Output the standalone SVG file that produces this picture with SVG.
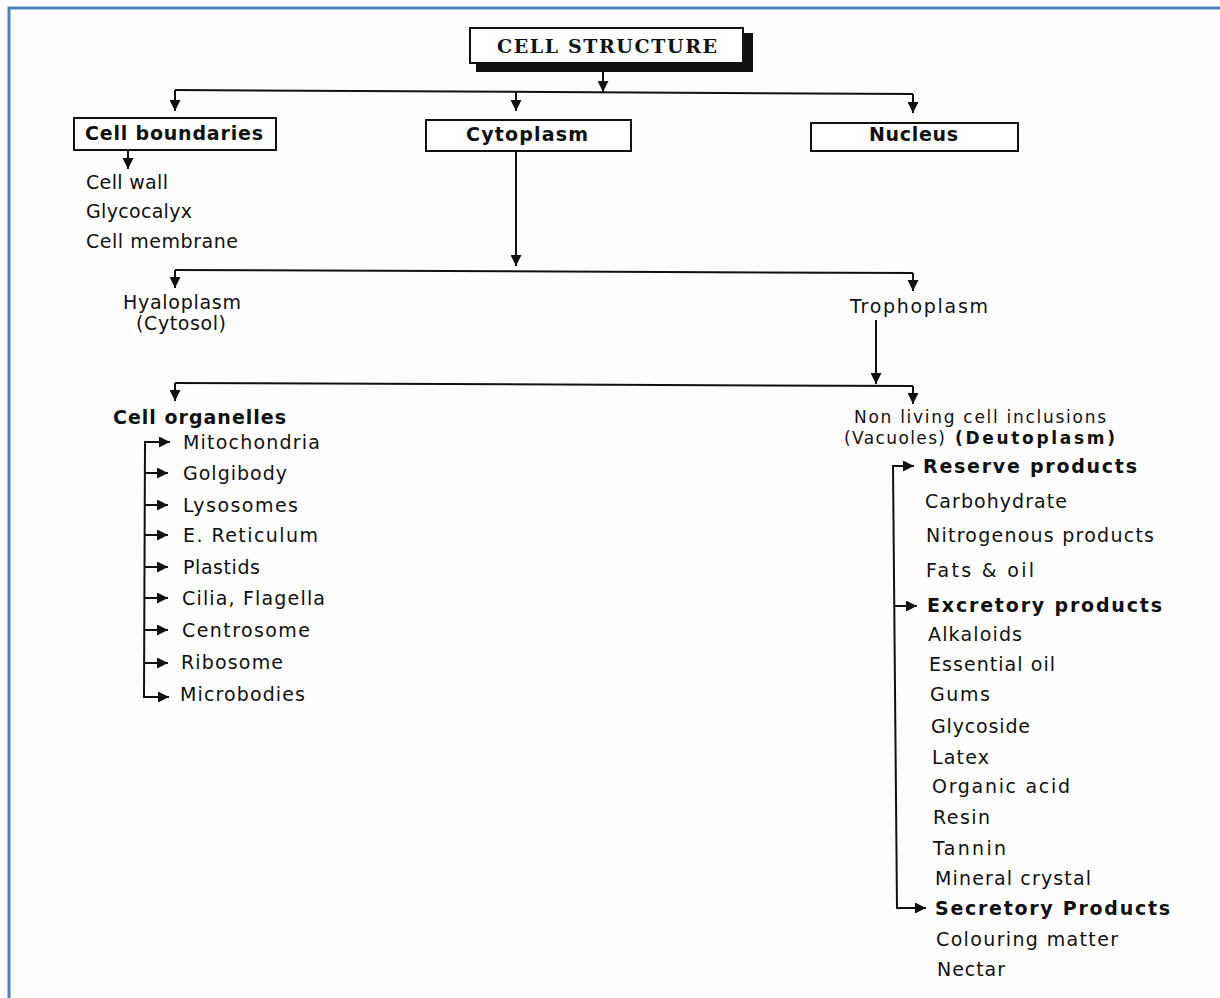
<svg xmlns="http://www.w3.org/2000/svg" width="1220" height="998" viewBox="0 0 1220 998">
<style>
.bg{fill:#fdfdfd}
.border{fill:none;stroke:#4f81bd;stroke-width:3}
.box{fill:#fff;stroke:#111;stroke-width:2}
.shadow{fill:#111}
.ln{fill:none;stroke:#111;stroke-width:2}
.ar{fill:none;stroke:#111;stroke-width:2;marker-end:url(#ah)}
text{font-family:"DejaVu Sans","Liberation Sans",sans-serif;font-size:19px;fill:#111}
.b{font-weight:bold}
.sm{font-size:17px}
.title{font-family:"DejaVu Serif","Liberation Serif",serif;font-weight:bold;font-size:19px}
</style>
<defs>
<marker id="ah" viewBox="0 0 10 10" markerWidth="11" markerHeight="11" markerUnits="userSpaceOnUse" refX="10" refY="5" orient="auto">
<path d="M0,0 L10,5 L0,10 z" fill="#111"/>
</marker>
</defs>
<rect class="bg" x="0" y="0" width="1220" height="998"/>
<path class="border" d="M9,998 L9,8 L1220,8"/>

<g id="connectors">
<path class="ar" d="M603,72 L603,92"/>
<path class="ln" d="M175,90 L913,94"/>
<path class="ar" d="M175,90 L175,111"/>
<path class="ar" d="M516,92 L516,111"/>
<path class="ar" d="M913,94 L913,113"/>
<path class="ar" d="M128,150 L128,169"/>
<path class="ar" d="M516,151 L516,266"/>
<path class="ln" d="M175,270 L913,273"/>
<path class="ar" d="M175,270 L175,288"/>
<path class="ar" d="M913,273 L913,291"/>
<path class="ar" d="M876,320 L876,384"/>
<path class="ln" d="M175,383 L913,386"/>
<path class="ar" d="M175,383 L175,401"/>
<path class="ar" d="M913,386 L913,404"/>
<path class="ln" d="M144,697 L145,442"/>
<path class="ar" d="M144,442 L170,442"/>
<path class="ar" d="M145,473 L168,473"/>
<path class="ar" d="M145,505 L168,505"/>
<path class="ar" d="M145,535 L168,535"/>
<path class="ar" d="M145,567 L168,567"/>
<path class="ar" d="M145,598 L168,598"/>
<path class="ar" d="M145,630 L168,630"/>
<path class="ar" d="M145,663 L168,663"/>
<path class="ar" d="M143,697 L169,697"/>
<path class="ln" d="M893,466 L897,909"/>
<path class="ar" d="M892,466 L914,466"/>
<path class="ar" d="M895,606 L917,606"/>
<path class="ar" d="M896,908 L926,908"/>
</g>

<g id="cell-structure">
<rect class="shadow" x="476" y="33" width="277" height="39"/>
<rect class="box" x="470" y="28" width="273" height="35"/>
<text class="title" x="497" y="53" textLength="220">CELL STRUCTURE</text>
</g>

<g id="cell-boundaries">
<rect class="box" x="74" y="118" width="202" height="32"/>
<text class="b" x="85" y="140" textLength="178">Cell boundaries</text>
</g>

<g id="cytoplasm">
<rect class="box" x="426" y="120" width="205" height="31"/>
<text class="b" x="466" y="141" textLength="122">Cytoplasm</text>
</g>

<g id="nucleus">
<rect class="box" x="811" y="123" width="207" height="28"/>
<text class="b" x="869" y="141" textLength="89">Nucleus</text>
</g>

<g id="boundary-items">
<text x="86" y="189" textLength="82">Cell wall</text>
<text x="86" y="218" textLength="106">Glycocalyx</text>
<text x="86" y="248" textLength="152">Cell membrane</text>
</g>

<g id="hyaloplasm">
<text x="123" y="309" textLength="118">Hyaloplasm</text>
<text x="136" y="330" textLength="90">(Cytosol)</text>
</g>

<g id="trophoplasm">
<text x="850" y="313" textLength="138">Trophoplasm</text>
</g>

<g id="cell-organelles">
<text class="b" x="113" y="424" textLength="173">Cell organelles</text>
<text x="183" y="449" textLength="137">Mitochondria</text>
<text x="183" y="480" textLength="104">Golgibody</text>
<text x="183" y="512" textLength="115">Lysosomes</text>
<text x="183" y="542" textLength="135">E. Reticulum</text>
<text x="183" y="574" textLength="77">Plastids</text>
<text x="182" y="605" textLength="143">Cilia, Flagella</text>
<text x="182" y="637" textLength="128">Centrosome</text>
<text x="181" y="669" textLength="102">Ribosome</text>
<text x="180" y="701" textLength="125">Microbodies</text>
</g>

<g id="non-living">
<text class="sm" x="854" y="423" textLength="252">Non living cell inclusions</text>
<text class="sm" x="844" y="444" textLength="101">(Vacuoles)</text>
<text class="sm b" x="955" y="444" textLength="160">(Deutoplasm)</text>
</g>

<g id="reserve-products">
<text class="b" x="923" y="473" textLength="214">Reserve products</text>
<text x="925" y="508" textLength="142">Carbohydrate</text>
<text x="926" y="542" textLength="228">Nitrogenous products</text>
<text x="926" y="577" textLength="108">Fats &amp; oil</text>
</g>

<g id="excretory-products">
<text class="b" x="927" y="612" textLength="235">Excretory products</text>
<text x="928" y="641" textLength="94">Alkaloids</text>
<text x="929" y="671" textLength="126">Essential oil</text>
<text x="930" y="701" textLength="60">Gums</text>
<text x="931" y="733" textLength="99">Glycoside</text>
<text x="932" y="764" textLength="57">Latex</text>
<text x="932" y="793" textLength="138">Organic acid</text>
<text x="933" y="824" textLength="57">Resin</text>
<text x="933" y="855" textLength="73">Tannin</text>
<text x="935" y="885" textLength="156">Mineral crystal</text>
</g>

<g id="secretory-products">
<text class="b" x="935" y="915" textLength="235">Secretory Products</text>
<text x="936" y="946" textLength="182">Colouring matter</text>
<text x="937" y="976" textLength="68">Nectar</text>
</g>
</svg>
